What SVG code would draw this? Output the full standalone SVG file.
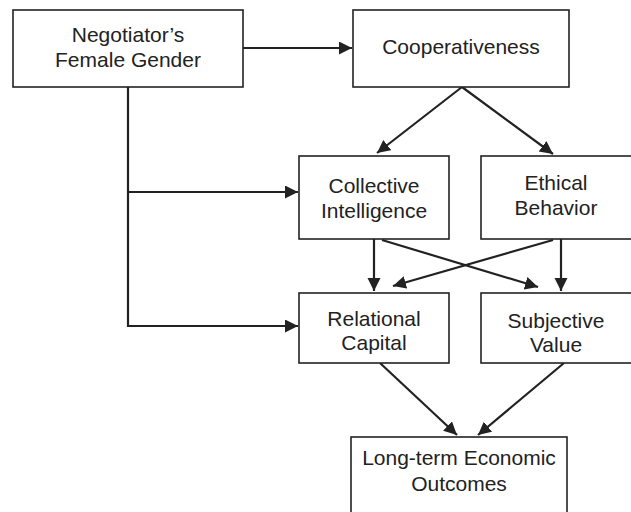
<svg xmlns="http://www.w3.org/2000/svg" width="631" height="512" viewBox="0 0 631 512">
<style>
.box{fill:#fff;stroke:#222;stroke-width:1.6}
.lbl{font-family:"Liberation Sans",Arial,sans-serif;font-size:21px;fill:#222;text-anchor:middle}
.con{fill:none;stroke:#222;stroke-width:2.2}
</style>
<defs>
<marker id="ah" markerUnits="userSpaceOnUse" markerWidth="14" markerHeight="14" refX="13" refY="6.5" orient="auto">
<path d="M0,0 L13,6.5 L0,13 z" fill="#222"/>
</marker>
</defs>
<rect width="631" height="512" fill="#fff"/>
<g id="connectors">
<path class="con" d="M243,48 H352" marker-end="url(#ah)"/>
<path class="con" d="M462,87 L377,153" marker-end="url(#ah)"/>
<path class="con" d="M462,87 L553,154" marker-end="url(#ah)"/>
<path class="con" d="M128,87 V326 H298" marker-end="url(#ah)"/>
<path class="con" d="M128,192 H298" marker-end="url(#ah)"/>
<path class="con" d="M374,239 V291" marker-end="url(#ah)"/>
<path class="con" d="M561,239 V291" marker-end="url(#ah)"/>
<path class="con" d="M382,240 L538,287" marker-end="url(#ah)"/>
<path class="con" d="M553,240 L393,286" marker-end="url(#ah)"/>
<path class="con" d="M380,363 L457,435" marker-end="url(#ah)"/>
<path class="con" d="M564,363 L478,435" marker-end="url(#ah)"/>
</g>
<g id="gender">
<rect class="box" x="13" y="10" width="230" height="77"/>
<text class="lbl" x="128" y="42">Negotiator’s</text>
<text class="lbl" x="128" y="67">Female Gender</text>
</g>
<g id="cooperativeness">
<rect class="box" x="353" y="10" width="216" height="77"/>
<text class="lbl" x="461" y="54">Cooperativeness</text>
</g>
<g id="collective">
<rect class="box" x="299" y="156" width="150" height="83"/>
<text class="lbl" x="374" y="193">Collective</text>
<text class="lbl" x="374" y="218">Intelligence</text>
</g>
<g id="ethical">
<rect class="box" x="481" y="156" width="152" height="83"/>
<text class="lbl" x="556" y="190">Ethical</text>
<text class="lbl" x="556" y="215">Behavior</text>
</g>
<g id="relational">
<rect class="box" x="299" y="293" width="150" height="70"/>
<text class="lbl" x="374" y="326">Relational</text>
<text class="lbl" x="374" y="350">Capital</text>
</g>
<g id="subjective">
<rect class="box" x="481" y="293" width="152" height="70"/>
<text class="lbl" x="556" y="328">Subjective</text>
<text class="lbl" x="556" y="352">Value</text>
</g>
<g id="outcomes">
<rect class="box" x="351" y="437" width="216" height="80"/>
<text class="lbl" x="459" y="465">Long-term Economic</text>
<text class="lbl" x="459" y="491">Outcomes</text>
</g>
</svg>
